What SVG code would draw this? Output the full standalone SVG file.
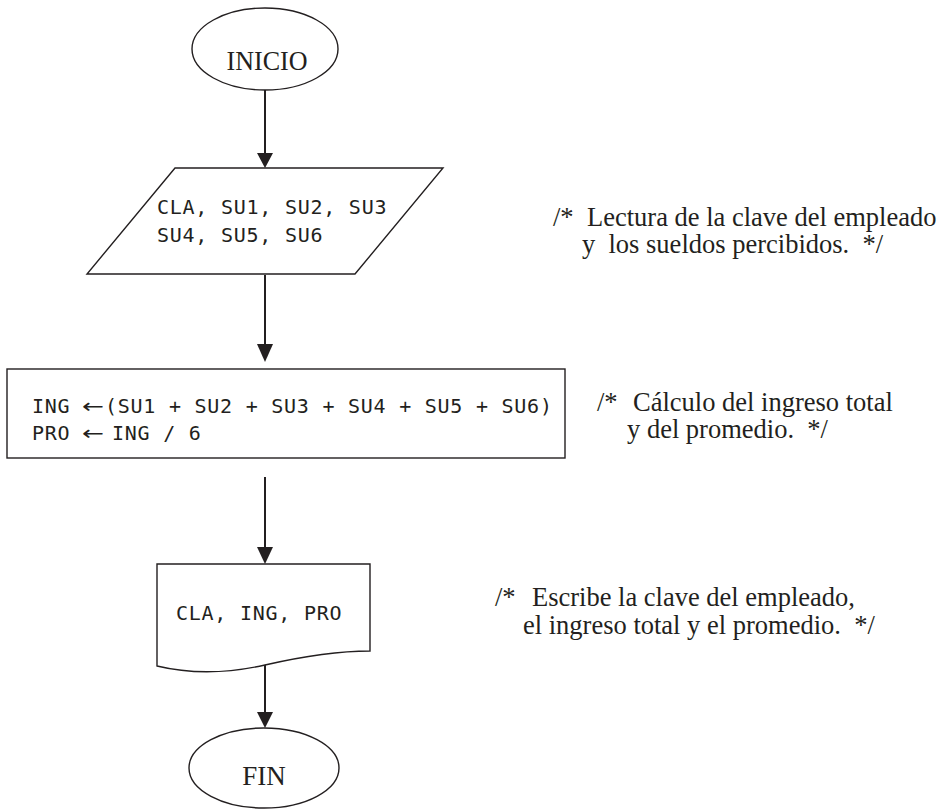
<svg xmlns="http://www.w3.org/2000/svg" width="943" height="811" viewBox="0 0 943 811">
<style>
.shape{fill:#fff;stroke:#231f20;stroke-width:1.4}
.conn{stroke:#231f20;stroke-width:2;fill:none}
.head{fill:#231f20}
.mono{font-family:"DejaVu Sans Mono","Liberation Mono",monospace;font-size:20px;letter-spacing:0.75px;fill:#231f20}
.serif{font-family:"Liberation Serif","Times New Roman",serif;font-size:26.5px;fill:#231f20}
.term{font-family:"Liberation Serif","Times New Roman",serif;font-size:27px;fill:#231f20}
</style>
<rect width="943" height="811" fill="#fff"/>
<g id="connectors">
<path class="conn" d="M265,90 V153"/><path class="head" d="M257,153 H273 L265,168 Z"/>
<path class="conn" d="M265,275 V344"/><path class="head" d="M257,344 H273 L265,362 Z"/>
<path class="conn" d="M265,477 V547"/><path class="head" d="M257,547 H273 L265,564 Z"/>
<path class="conn" d="M265,665 V712"/><path class="head" d="M257,712 H273 L265,728 Z"/>
</g>
<g id="inicio">
<ellipse class="shape" cx="265" cy="49" rx="73" ry="41"/>
<text class="term" x="267" y="70" text-anchor="middle" textLength="81" lengthAdjust="spacingAndGlyphs">INICIO</text>
</g>
<g id="lectura">
<polygon class="shape" points="175,168 443,168 355,274 87,274"/>
<text class="mono" x="157" y="214">CLA, SU1, SU2, SU3</text>
<text class="mono" x="157" y="242">SU4, SU5, SU6</text>
</g>
<g id="calculo">
<rect class="shape" x="7" y="369" width="558" height="89"/>
<text class="mono" y="413"><tspan x="32">ING</tspan><tspan x="82" textLength="23" lengthAdjust="spacingAndGlyphs" font-family="DejaVu Sans">←</tspan><tspan x="105">(SU1 + SU2 + SU3 + SU4 + SU5 + SU6)</tspan></text>
<text class="mono" y="440"><tspan x="32">PRO</tspan><tspan x="82" textLength="23" lengthAdjust="spacingAndGlyphs" font-family="DejaVu Sans">←</tspan><tspan x="112">ING / 6</tspan></text>
</g>
<g id="escribe">
<path class="shape" d="M157,564 H370 V651 C335,651 300,657 265,665 C225,674 190,674 157,666 Z"/>
<text class="mono" x="176" y="620">CLA, ING, PRO</text>
</g>
<g id="fin">
<ellipse class="shape" cx="264" cy="768" rx="75" ry="40"/>
<text class="term" x="264" y="785" text-anchor="middle">FIN</text>
</g>
<g id="comments">
<text class="serif" xml:space="preserve"><tspan x="553" y="226">/*</tspan><tspan x="587" y="226">Lectura de la clave del empleado</tspan><tspan x="582" y="253">y  los sueldos percibidos.  */</tspan></text>
<text class="serif" xml:space="preserve"><tspan x="597" y="411">/*</tspan><tspan x="633" y="411">Cálculo del ingreso total</tspan><tspan x="627" y="438">y del promedio.  */</tspan></text>
<text class="serif" xml:space="preserve"><tspan x="495" y="606">/*</tspan><tspan x="532" y="606">Escribe la clave del empleado,</tspan><tspan x="523" y="634">el ingreso total y el promedio.  */</tspan></text>
</g>
</svg>
